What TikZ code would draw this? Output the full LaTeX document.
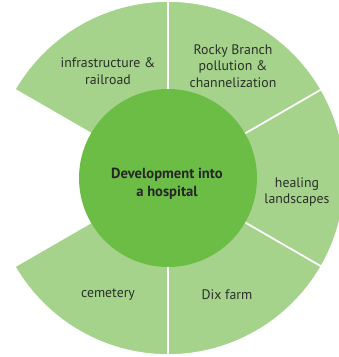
\documentclass[tikz,border=0pt]{standalone}
\usepackage{fontspec}
\setmainfont{PT Sans}
\definecolor{ringgreen}{RGB}{166,211,140}
\definecolor{hubgreen}{RGB}{108,189,69}
\definecolor{labelgray}{RGB}{40,48,40}
\begin{document}
\begin{tikzpicture}[x=1pt, y=1pt,
    every node/.style={font=\fontsize{13.8}{16.5}\selectfont, text=labelgray, align=center}]
    % page is cut like the original: the ring runs off on the right
    \clip (-168,-179) rectangle (171,178);
    \def\ri{89}
    \def\ro{177}
    % five sectors of the ring, gap left open between 150 and 210
    \foreach \a/\b in {90/150, 30/90, -30/30, -90/-30, 210/270}{%
        \fill[ringgreen, draw=white, line width=1.6pt]
            (0,0) -- (\a:\ro) arc[start angle=\a, end angle=\b, radius=\ro] -- cycle;
    }
    \fill[hubgreen] (0,0) circle (\ri);

    \node[font=\fontsize{14.6}{18}\selectfont\bfseries, text=black!85] (hub) at (-1,-6)
        {Development into\\a hospital};
    \node (infra) at (-60,107) {infrastructure \&\\railroad};
    \node (rocky) at (65,112) {Rocky Branch\\pollution \&\\channelization};
    \node (healing) at (129,-14) {healing\\landscapes};
    \node (dix) at (59,-117) {Dix farm};
    \node (cemetery) at (-60,-117) {cemetery};
\end{tikzpicture}
\end{document}
